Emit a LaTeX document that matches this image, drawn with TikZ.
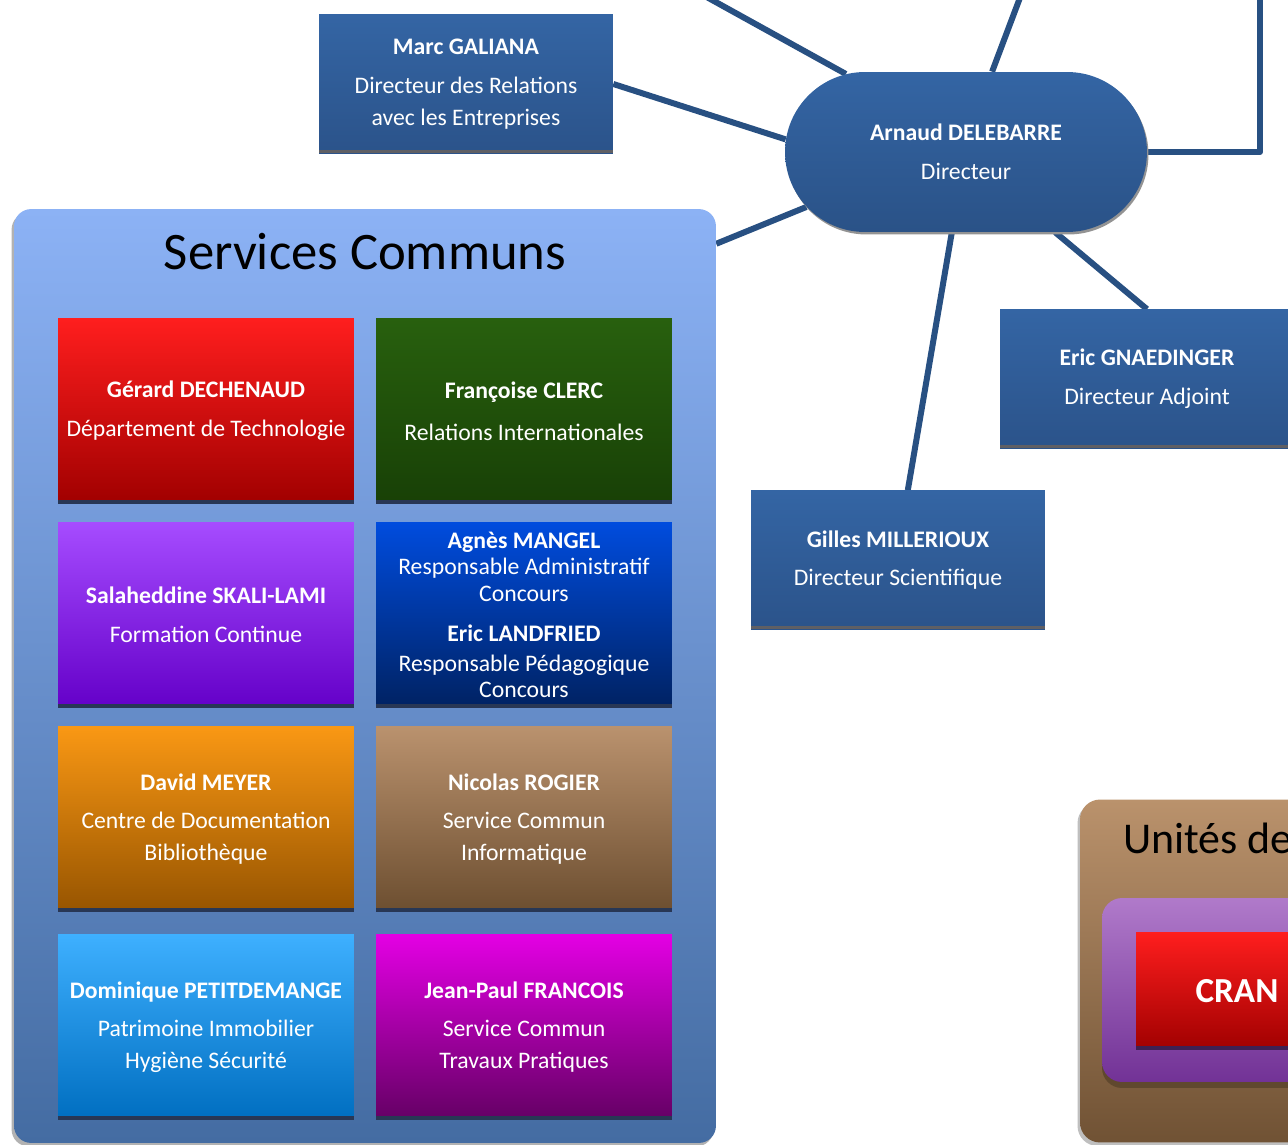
\documentclass[tikz,border=0pt]{standalone}
\usepackage{fontspec}
\setmainfont{Carlito}
\usetikzlibrary{shapes.misc,shadows,calc,backgrounds}

\definecolor{boxtop}{RGB}{52,101,164}
\definecolor{boxbot}{RGB}{43,83,138}
\definecolor{dirbot}{RGB}{42,82,135}
\definecolor{linkblue}{RGB}{40,80,130}
\definecolor{bargray}{RGB}{95,95,100}
\definecolor{barnavy}{RGB}{40,55,85}
\definecolor{bardark}{RGB}{62,32,82}
\definecolor{sctop}{RGB}{140,178,245}
\definecolor{scbot}{RGB}{68,108,162}
\definecolor{redtop}{RGB}{255,30,30}
\definecolor{redbot}{RGB}{160,0,0}
\definecolor{greentop}{RGB}{40,96,14}
\definecolor{greenbot}{RGB}{24,64,6}
\definecolor{violettop}{RGB}{166,76,255}
\definecolor{violetbot}{RGB}{100,0,200}
\definecolor{navytop}{RGB}{0,76,222}
\definecolor{navybot}{RGB}{0,34,98}
\definecolor{orangetop}{RGB}{250,152,20}
\definecolor{orangebot}{RGB}{150,84,0}
\definecolor{tantop}{RGB}{186,146,110}
\definecolor{tanbot}{RGB}{108,78,48}
\definecolor{skytop}{RGB}{62,176,255}
\definecolor{skybot}{RGB}{0,110,192}
\definecolor{magtop}{RGB}{228,0,228}
\definecolor{magbot}{RGB}{100,0,100}
\definecolor{urtop}{RGB}{186,146,108}
\definecolor{urbot}{RGB}{112,82,52}
\definecolor{labtop}{RGB}{176,122,202}
\definecolor{labbot}{RGB}{114,50,150}
\definecolor{labshadow}{RGB}{96,72,46}

\begin{document}
\begin{tikzpicture}[x=0.02cm,y=-0.02cm,
  every node/.style={font=\fontsize{13.5}{18}\selectfont},
  person/.style={rectangle,top color=boxtop,bottom color=boxbot,text=white,align=center,
    minimum width=5.88cm,minimum height=2.78cm,inner sep=0pt,
    path picture={\fill[bargray] (path picture bounding box.south west) rectangle ([yshift=0.07cm]path picture bounding box.south east);}},
  service/.style n args={2}{rectangle,top color=#1,bottom color=#2,text=white,align=center,
    minimum width=5.92cm,minimum height=3.72cm,inner sep=0pt,
    path picture={\fill[barnavy] (path picture bounding box.south west) rectangle ([yshift=0.08cm]path picture bounding box.south east);}},
  group/.style n args={2}{rectangle,rounded corners=0.34cm,top color=#1,bottom color=#2,inner sep=0pt},
  title/.style={font=\fontsize{30}{36}\selectfont}]
\useasboundingbox (0,0) rectangle (1288,1145);

% Services Communs
\node[group={sctop}{scbot},minimum width=14.04cm,minimum height=18.68cm,
  drop shadow={shadow xshift=-0.05cm,shadow yshift=-0.07cm,fill=gray!60,opacity=1}] (sc) at (365,676) {};
\node[title] (sctitle) at (365,252) {Services Communs};

\path
(206,411) node [service={redtop}{redbot}] (tech) {\textbf{Gérard DECHENAUD}\\[4pt] Département de Technologie}
(524,411) node [service={greentop}{greenbot}] (ri) {\textbf{Françoise CLERC}\\[6pt] Relations Internationales}
(206,615) node [service={violettop}{violetbot}] (fc) {\textbf{Salaheddine SKALI-LAMI}\\[4pt] Formation Continue}
(524,615) node [service={navytop}{navybot},font=\fontsize{13.5}{15}\selectfont] (conc) {\textbf{Agnès MANGEL}\\ Responsable Administratif\\ Concours\\[8pt] \textbf{Eric LANDFRIED}\\[2pt] Responsable Pédagogique\\ Concours}
(206,819) node [service={orangetop}{orangebot}] (doc) {\textbf{David MEYER}\\[4pt] Centre de Documentation\\ Bibliothèque}
(524,819) node [service={tantop}{tanbot}] (info) {\textbf{Nicolas ROGIER}\\[4pt] Service Commun\\ Informatique}
(206,1027) node [service={skytop}{skybot}] (patri) {\textbf{Dominique PETITDEMANGE}\\[4pt] Patrimoine Immobilier\\ Hygiène Sécurité}
(524,1027) node [service={magtop}{magbot}] (tp) {\textbf{Jean-Paul FRANCOIS}\\[4pt] Service Commun\\ Travaux Pratiques}
;

% Unites de recherche
\node[group={urtop}{urbot},rounded corners=0.4cm,minimum width=6.4cm,minimum height=6.86cm,
  drop shadow={shadow xshift=-0.05cm,shadow yshift=-0.07cm,fill=gray!50,opacity=1}] (ur) at (1240,971) {};
\node[font=\fontsize{25}{30}\selectfont,anchor=base west] (urtitle) at (1117,853) {Unités de};
\node[group={labtop}{labbot},rounded corners=0.4cm,minimum width=5.96cm,minimum height=3.68cm,
  drop shadow={shadow xshift=0cm,shadow yshift=-0.12cm,fill=labshadow,opacity=1}] (lab) at (1251,990) {};
\node[rectangle,top color=redtop,bottom color=redbot,
  minimum width=4.04cm,minimum height=2.36cm,inner sep=0pt,text=white,font=\bfseries\fontsize{20}{24}\selectfont,
  path picture={\fill[bardark] (path picture bounding box.south west) rectangle ([yshift=0.08cm]path picture bounding box.south east);}] (cran) at (1237,991) {CRAN};

% direction
\node[rounded rectangle,top color=boxtop,bottom color=dirbot,text=white,align=center,
  minimum width=7.24cm,minimum height=3.2cm,inner sep=0pt,
  drop shadow={shadow xshift=0.03cm,shadow yshift=-0.05cm,fill=gray!85,opacity=1}] (dir) at (966,152) {\textbf{Arnaud DELEBARRE}\\[4pt] Directeur};
\node[person] (mg) at (466,84) {\textbf{Marc GALIANA}\\[4pt] Directeur des Relations\\ avec les Entreprises};
\node[person] (eg) at (1147,379) {\textbf{Eric GNAEDINGER}\\[4pt] Directeur Adjoint};
\node[person] (gm) at (898,560) {\textbf{Gilles MILLERIOUX}\\[4pt] Directeur Scientifique};

\coordinate (up1) at (703,-5);
\coordinate (up2) at (1021,-5);
\coordinate (up3) at (1260,-5);

\begin{scope}[on background layer,every path/.style={draw=linkblue,line width=0.12cm,line join=round}]
\path (up1) -- (dir.147);
\path (up2) -- (dir.72);
\path (dir.east) -| (up3);
\path (mg.east) -- (dir.176);
\path ($(sc.north east)+(0,35)$) -- (dir.199);
\path (dir.260) -- (gm.82);
\path (dir.318) -- (eg.north);
\end{scope}
\end{tikzpicture}
\end{document}
